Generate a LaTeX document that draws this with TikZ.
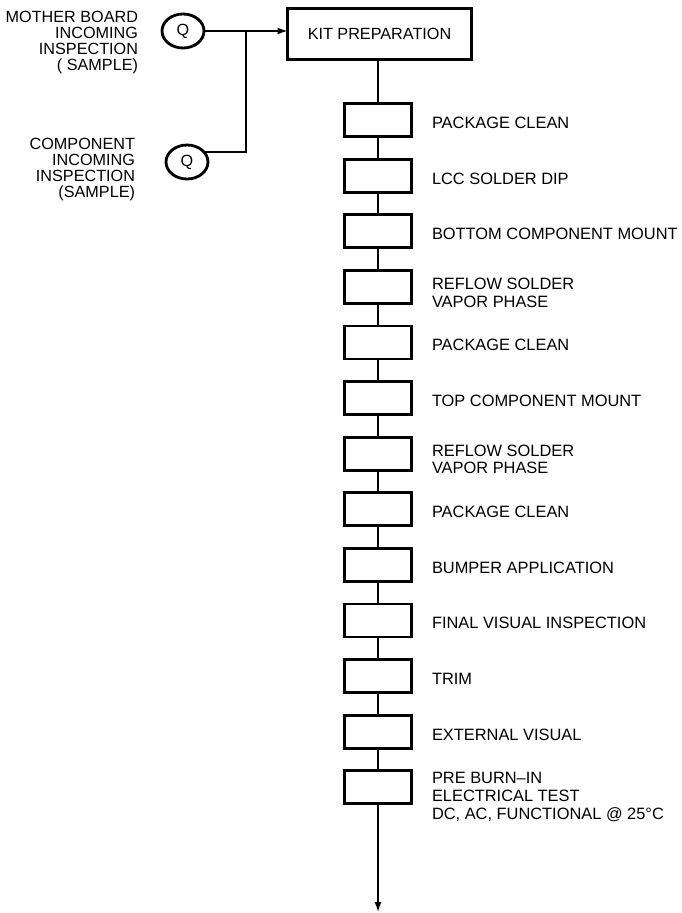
\documentclass[tikz,border=0pt]{standalone}
\usepackage{fontspec}
\setmainfont{Liberation Sans}
\usetikzlibrary{arrows.meta,shapes.geometric}
\begin{document}
\begin{tikzpicture}[x=1pt,y=-1pt,
  every node/.style={inner sep=0pt, outer sep=0pt},
  stepbox/.style={draw, line width=2.8pt, minimum width=67pt, minimum height=33pt},
  kitbox/.style={draw, line width=2.8pt, minimum width=184pt, minimum height=51pt, font=\fontsize{16.2}{17.5}\selectfont},
  qnode/.style={draw, ellipse, line width=2.8pt, minimum width=42pt, minimum height=34pt, font=\fontsize{16.2}{17.5}\selectfont},
  rlabel/.style={anchor=north west, align=left, font=\fontsize{16.4}{17.8}\selectfont},
  llabel/.style={anchor=north east, align=right, font=\fontsize{16.2}{16.2}\selectfont},
  conn/.style={line width=1.4pt},
  arr/.style={conn, -{Latex[length=10pt,width=7pt]}}
]
\useasboundingbox (0,0) rectangle (681,913);

% left inputs
\node[llabel] (lm) at (138,11) {MOTHER BOARD\\INCOMING\\INSPECTION\\( SAMPLE)};
\node[llabel] (lc) at (135,138) {COMPONENT\\INCOMING\\INSPECTION\\(SAMPLE)};
\node[qnode] (q1) at (183,31) {Q};
\node[qnode] (q2) at (187,162) {Q};

\node[kitbox] (kit) at (379.5,34) {KIT PREPARATION};

% process steps
\foreach \i in {1,...,13} {
  \node[stepbox] (s\i) at (378,{120+55.6*(\i-1)}) {};
}

% labels
\node[rlabel] (l1)  at (432,{120+55.6*0-3})  {PACKAGE CLEAN};
\node[rlabel] (l2)  at (432,{120+55.6*1-3})  {LCC SOLDER DIP};
\node[rlabel] (l3)  at (432,{120+55.6*2-3})  {BOTTOM COMPONENT MOUNT};
\node[rlabel] (l4)  at (432,{120+55.6*3-9})  {REFLOW SOLDER\\VAPOR PHASE};
\node[rlabel] (l5)  at (432,{120+55.6*4-3})  {PACKAGE CLEAN};
\node[rlabel] (l6)  at (432,{120+55.6*5-3})  {TOP COMPONENT MOUNT};
\node[rlabel] (l7)  at (432,{120+55.6*6-9})  {REFLOW SOLDER\\VAPOR PHASE};
\node[rlabel] (l8)  at (432,{120+55.6*7-3})  {PACKAGE CLEAN};
\node[rlabel] (l9)  at (432,{120+55.6*8-3})  {BUMPER APPLICATION};
\node[rlabel] (l10) at (432,{120+55.6*9-3})  {FINAL VISUAL INSPECTION};
\node[rlabel] (l11) at (432,{120+55.6*10-3}) {TRIM};
\node[rlabel] (l12) at (432,{120+55.6*11-3}) {EXTERNAL VISUAL};
\node[rlabel] (l13) at (432,{120+55.6*12-15}) {PRE BURN–IN\\ELECTRICAL TEST\\DC, AC, FUNCTIONAL @ 25°C};

% connectors
\coordinate (j) at (246,31);
\coordinate (end) at (378,912);
\draw[arr] (q1.east) -- (q1.east -| kit.west);
\draw[conn] (q2.30) -- (q2.30 -| j) -- (j);
\draw[conn] (kit.south -| s1.north) -- (s1.north);
\foreach \i [evaluate=\i as \n using int(\i+1)] in {1,...,12} {
  \draw[conn] (s\i.south) -- (s\n.north);
}
\draw[arr] (s13.south) -- (end);
\end{tikzpicture}
\end{document}
